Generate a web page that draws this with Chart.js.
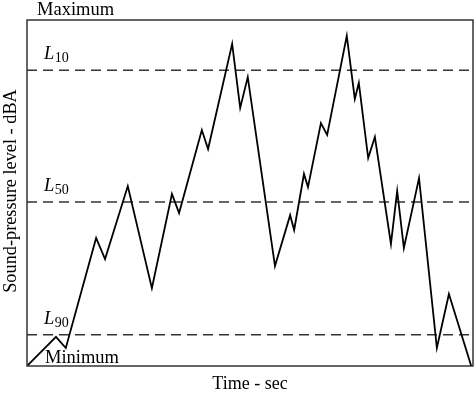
<!DOCTYPE html>
<html>
<head>
<meta charset="utf-8">
<script src="https://cdn.jsdelivr.net/npm/chart.js@4"></script>
<style>
html,body{margin:0;padding:0;background:#fff;}
#wrap{width:474px;height:396px;}
</style>
</head>
<body>
<div id="wrap"><canvas id="c" width="474" height="396"></canvas></div>
<script>
// Time (arbitrary units, 0-100) and sound level (arbitrary units, 0-100 between Minimum and Maximum)
const times = [0, 6.5, 8.7, 15.5, 17.5, 22.6, 28.0, 32.5, 34.1, 39.2, 40.6, 46.0, 47.8, 49.5, 55.6, 59.0, 59.9, 62.1, 63.0, 65.9, 67.3, 71.7, 73.5, 74.4, 76.5, 78.0, 81.6, 83.0, 84.5, 87.9, 91.9, 94.6, 99.6];
const levels = [0, 8.4, 5.2, 37.0, 30.9, 52.0, 22.5, 49.7, 44.2, 68.2, 62.7, 93.1, 74.6, 83.5, 28.9, 43.6, 39.3, 55.5, 51.7, 70.2, 66.8, 95.4, 77.2, 81.8, 60.1, 66.2, 35.3, 50.6, 34.1, 54.3, 5.2, 20.8, 0];
const percentileNames = ["10", "50", "90"];
const percentileLevels = [85.5, 47.4, 9.0];
const timeRange = [0, 100];
const levelRange = [0, 100];
const xTitle = "Time - sec";
const yTitle = "Sound-pressure level - dBA";
const maxLabel = "Maximum";
const minLabel = "Minimum";

const FONT = '"Liberation Serif", "Times New Roman", serif';

const datasets = [{
  data: times.map((t, i) => ({x: t, y: levels[i]})),
  showLine: true, borderColor: '#000', borderWidth: 1.8, pointRadius: 0, tension: 0, fill: false
}];
percentileLevels.forEach(v => {
  datasets.push({
    data: [{x: timeRange[0], y: v}, {x: timeRange[1], y: v}],
    showLine: true, borderColor: '#333', borderWidth: 1.5, borderDash: [10, 6], pointRadius: 0, fill: false
  });
});

const decor = {
  id: 'decor',
  afterDraw(chart) {
    const ctx = chart.ctx, a = chart.chartArea;
    const ys = chart.scales.y;
    ctx.save();
    // frame
    ctx.strokeStyle = '#333'; ctx.lineWidth = 1.5;
    ctx.strokeRect(a.left, a.top, a.right - a.left, a.bottom - a.top);
    ctx.fillStyle = '#000';
    ctx.textBaseline = 'alphabetic';
    ctx.textAlign = 'left';
    ctx.font = '18.5px ' + FONT;
    ctx.fillText(maxLabel, 37, 15);
    ctx.fillText(minLabel, 45, 363);
    // percentile labels
    percentileNames.forEach((n, i) => {
      const y = ys.getPixelForValue(percentileLevels[i]) - 11;
      ctx.font = 'italic 18.5px ' + FONT;
      ctx.fillText('L', 44, y);
      const w = ctx.measureText('L').width;
      ctx.font = '14px ' + FONT;
      ctx.fillText(n, 44 + w + 0.5, y + 3);
    });
    // axis titles
    ctx.font = '18px ' + FONT;
    ctx.textAlign = 'center';
    ctx.fillText(xTitle, (a.left + a.right) / 2, 389);
    ctx.font = '18.3px ' + FONT;
    ctx.translate(16, 191);
    ctx.rotate(-Math.PI / 2);
    ctx.fillText(yTitle, 0, 0);
    ctx.restore();
  }
};

new Chart(document.getElementById('c'), {
  type: 'scatter',
  data: {datasets},
  options: {
    responsive: false,
    animation: false,
    layout: {padding: {left: 27, right: 1, top: 20, bottom: 30}},
    plugins: {legend: {display: false}, tooltip: {enabled: false}},
    scales: {
      x: {type: 'linear', min: timeRange[0], max: timeRange[1], display: false},
      y: {type: 'linear', min: levelRange[0], max: levelRange[1], display: false}
    }
  },
  plugins: [decor]
});
</script>
</body>
</html>
